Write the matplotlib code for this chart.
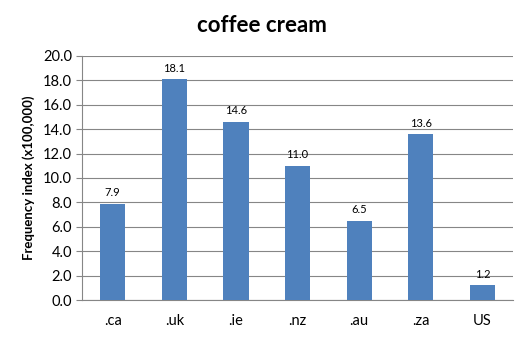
import matplotlib
matplotlib.use('Agg')
import matplotlib.pyplot as plt
import numpy as np

# data
domains = ['.ca', '.uk', '.ie', '.nz', '.au', '.za', 'US']
freq = [7.9, 18.1, 14.6, 11.0, 6.5, 13.6, 1.2]
yticks = [0, 2, 4, 6, 8, 10, 12, 14, 16, 18, 20]

plt.rcParams['font.family'] = ['Lato', 'DejaVu Sans']

fig = plt.figure(figsize=(5.28, 3.39), dpi=100)
ax = fig.add_axes([0.155, 0.115, 0.817, 0.72])

x = np.arange(len(domains))
bars = ax.bar(x, freq, width=0.41, color='#4F81BD', zorder=3)
for b, v in zip(bars, freq):
    ax.text(b.get_x() + b.get_width() / 2, v + 0.45, '%.1f' % v,
            ha='center', va='bottom', fontsize=8)

ax.set_xlim(-0.5, len(domains) - 0.5)
ax.set_ylim(0, 20)
ax.set_yticks(yticks)
ax.set_yticklabels(['%.1f' % t for t in yticks], fontsize=10.5)
ax.set_xticks(x)
ax.set_xticklabels(domains, fontsize=10.5)
ax.tick_params(axis='x', length=0, pad=10)
ax.tick_params(axis='y', length=4, direction='out', color='#868686', pad=3)

ax.grid(axis='y', color='#868686', linewidth=0.8, zorder=0)
for s in ['top', 'right']:
    ax.spines[s].set_visible(False)
for s in ['left', 'bottom']:
    ax.spines[s].set_color('#868686')
    ax.spines[s].set_linewidth(0.8)

ax.set_ylabel('Frequency index (x100,000)', fontsize=9.5, fontweight='bold', labelpad=6)
fig.text(0.496, 0.926, 'coffee cream', ha='center', va='center',
         fontsize=16, fontweight='bold')

fig.savefig('out.png', dpi=100)
